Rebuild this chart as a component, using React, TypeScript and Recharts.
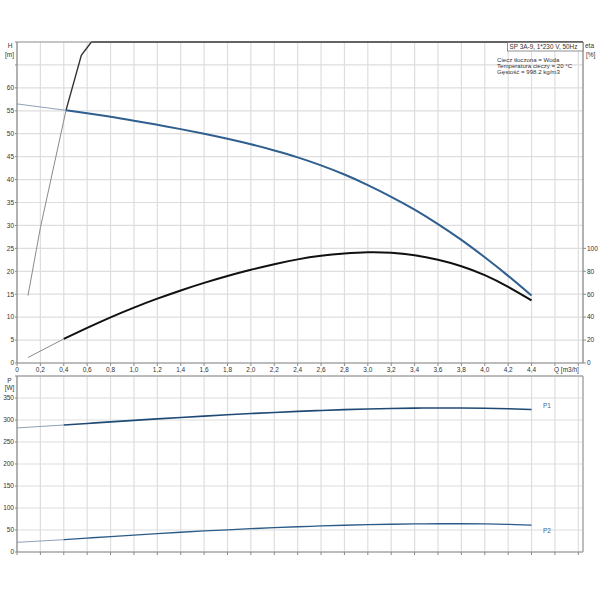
import React from 'react';
import { LineChart, Line, XAxis, YAxis, CartesianGrid, ReferenceLine } from 'recharts';

// ---- data ----
const qTicks = [0, 0.2, 0.4, 0.6, 0.8, 1.0, 1.2, 1.4, 1.6, 1.8, 2.0, 2.2, 2.4, 2.6, 2.8, 3.0, 3.2, 3.4, 3.6, 3.8, 4.0, 4.2, 4.4, 4.6, 4.8];
const hTicks = [0, 5, 10, 15, 20, 25, 30, 35, 40, 45, 50, 55, 60, 65, 70];
const etaTicks = [0, 20, 40, 60, 80, 100];
const pTicks = [0, 50, 100, 150, 200, 250, 300, 350, 400];

// H curve (m)
const qHThin = [0, 0.42];
const hThin = [56.5, 55.1];
const qH = [0.42, 0.6, 0.8, 1.0, 1.2, 1.4, 1.6, 1.8, 2.0, 2.2, 2.4, 2.6, 2.8, 3.0, 3.2, 3.4, 3.6, 3.8, 4.0, 4.2, 4.4];
const hMain = [55.1, 54.45, 53.7, 52.85, 51.95, 51.0, 50.0, 48.9, 47.7, 46.35, 44.85, 43.1, 41.1, 38.8, 36.25, 33.45, 30.3, 26.85, 23.05, 19.0, 14.7];

// steep curve (m)
const qSteepThin = [0.094, 0.2, 0.42];
const steepThin = [14.7, 29.5, 55.2];
const qSteep = [0.42, 0.55, 0.636];
const steepMain = [55.2, 67.1, 70];

// efficiency (%)
const qEtaThin = [0.094, 0.4];
const etaThin = [4.8, 21];
const qEta = [0.4, 0.6, 0.8, 1.0, 1.2, 1.4, 1.6, 1.8, 2.0, 2.2, 2.4, 2.6, 2.8, 3.0, 3.2, 3.4, 3.6, 3.8, 4.0, 4.2, 4.4];
const etaMain = [21, 30.6, 39.8, 48.3, 56.1, 63.3, 69.9, 75.9, 81.3, 86.2, 90.4, 93.5, 95.5, 96.6, 96.2, 94.0, 90.0, 84.4, 76.6, 66.4, 54.6];

// power (W)
const qPThin = [0, 0.4];
const p1Thin = [282, 288.6];
const p2Thin = [22, 28];
const qP = [0.4, 0.6, 0.8, 1.0, 1.2, 1.4, 1.6, 1.8, 2.0, 2.2, 2.4, 2.6, 2.8, 3.0, 3.2, 3.4, 3.6, 3.8, 4.0, 4.2, 4.4];
const p1Main = [288.6, 292.2, 295.8, 299.2, 302.5, 305.7, 308.8, 311.8, 314.6, 317.2, 319.6, 321.7, 323.5, 325.0, 326.2, 327.0, 327.4, 327.3, 326.8, 325.6, 323.8];
const p2Main = [28, 31.6, 35.1, 38.5, 41.8, 44.9, 47.8, 50.5, 53.0, 55.3, 57.4, 59.2, 60.8, 62.1, 63.1, 63.8, 64.2, 64.2, 63.8, 62.8, 61.2];

const zip = (qs: number[], vs: number[]) => qs.map((q, i) => ({ q, v: vs[i] }));

const FONT = '"Liberation Sans", Arial, sans-serif';
const tickStyle = { fontSize: 6.5, fill: '#333', fontFamily: FONT };
const axisCol = '#8a8a8a';
const gridCol = '#dedede';

const qFmt = (v: number) => (v > 4.45 ? '' : v === 0 ? '0' : v.toFixed(1).replace('.', ','));

export default function App() {
  return (
    <div style={{ position: 'absolute', left: 0, top: 0, width: 600, height: 600, background: '#fff' }}>
      <div style={{ position: 'absolute', left: 0, top: 0 }}>
        <LineChart width={600} height={375} margin={{ top: 42, right: 0, bottom: 0, left: 0 }}>
          <CartesianGrid stroke={gridCol} strokeWidth={1.2} />
          <XAxis
            type="number"
            dataKey="q"
            domain={[0, 4.84]}
            ticks={qTicks}
            interval={0}
            tickFormatter={qFmt}
            height={12}
            tickSize={3}
            tickMargin={1}
            axisLine={{ stroke: axisCol, strokeWidth: 1.2 }}
            tickLine={{ stroke: axisCol }}
            tick={tickStyle}
            allowDataOverflow
          />
          <YAxis
            type="number"
            domain={[0, 70]}
            ticks={hTicks}
            interval={0}
            width={17}
            tickSize={2}
            tickMargin={1}
            tickFormatter={(v: number) => (v <= 60 ? String(v) : '')}
            axisLine={{ stroke: axisCol, strokeWidth: 1.2 }}
            tickLine={{ stroke: axisCol }}
            tick={tickStyle}
            allowDataOverflow
          />
          <YAxis
            yAxisId="eta"
            orientation="right"
            type="number"
            domain={[0, 280]}
            ticks={etaTicks}
            interval={0}
            width={17}
            tickSize={3}
            tickMargin={1}
            axisLine={{ stroke: axisCol, strokeWidth: 1.2 }}
            tickLine={{ stroke: axisCol }}
            tick={tickStyle}
            allowDataOverflow
          />
          <ReferenceLine y={70} stroke="#9a9a9a" strokeWidth={1} />
          <ReferenceLine segment={[{ x: 0.636, y: 70 }, { x: 4.84, y: 70 }]} stroke="#444" strokeWidth={1.6} />
          <Line data={zip(qHThin, hThin)} dataKey="v" type="linear" dot={false} stroke="#8ea2b6" strokeWidth={1} isAnimationActive={false} />
          <Line data={zip(qSteepThin, steepThin)} dataKey="v" type="linear" dot={false} stroke="#8a8a8a" strokeWidth={1} isAnimationActive={false} />
          <Line data={zip(qSteep, steepMain)} dataKey="v" type="linear" dot={false} stroke="#333" strokeWidth={1.4} isAnimationActive={false} />
          <Line yAxisId="eta" data={zip(qEtaThin, etaThin)} dataKey="v" type="linear" dot={false} stroke="#8a8a8a" strokeWidth={1} isAnimationActive={false} />
          <Line yAxisId="eta" data={zip(qEta, etaMain)} dataKey="v" type="natural" dot={false} stroke="#111" strokeWidth={2} isAnimationActive={false} />
          <Line data={zip(qH, hMain)} dataKey="v" type="natural" dot={false} stroke="#2f5f8f" strokeWidth={2} isAnimationActive={false} />
        </LineChart>
      </div>
      <div style={{ position: 'absolute', left: 0, top: 370 }}>
        <LineChart width={600} height={190} margin={{ top: 6, right: 0, bottom: 0, left: 0 }}>
          <CartesianGrid stroke={gridCol} strokeWidth={1.2} />
          <XAxis
            type="number"
            dataKey="q"
            domain={[0, 4.84]}
            ticks={qTicks}
            interval={0}
            tickFormatter={() => ''}
            height={8}
            tickSize={3}
            axisLine={{ stroke: axisCol, strokeWidth: 1.2 }}
            tickLine={{ stroke: axisCol }}
            tick={tickStyle}
            allowDataOverflow
          />
          <YAxis
            type="number"
            domain={[0, 400]}
            ticks={pTicks}
            interval={0}
            width={17}
            tickSize={2}
            tickMargin={1}
            tickFormatter={(v: number) => (v <= 350 ? String(v) : '')}
            axisLine={{ stroke: axisCol, strokeWidth: 1.2 }}
            tickLine={{ stroke: axisCol }}
            tick={tickStyle}
            allowDataOverflow
          />
          <YAxis
            yAxisId="r"
            orientation="right"
            type="number"
            domain={[0, 400]}
            ticks={pTicks}
            width={17}
            tick={false}
            tickLine={false}
            axisLine={{ stroke: '#aaa', strokeWidth: 1.4 }}
          />
          <ReferenceLine y={400} stroke="#aaa" strokeWidth={1.4} />
          <Line data={zip(qPThin, p1Thin)} dataKey="v" type="linear" dot={false} stroke="#8ea2b6" strokeWidth={1} isAnimationActive={false} />
          <Line data={zip(qPThin, p2Thin)} dataKey="v" type="linear" dot={false} stroke="#8ea2b6" strokeWidth={1} isAnimationActive={false} />
          <Line data={zip(qP, p1Main)} dataKey="v" type="natural" dot={false} stroke="#1f4a75" strokeWidth={1.6} isAnimationActive={false} />
          <Line data={zip(qP, p2Main)} dataKey="v" type="natural" dot={false} stroke="#2a5a88" strokeWidth={1.3} isAnimationActive={false} />
        </LineChart>
      </div>
      <svg width={600} height={600} style={{ position: 'absolute', left: 0, top: 0, pointerEvents: 'none' }} fontFamily={FONT}>
        <g fontSize={6.5} fill="#333">
          <text x={10} y={48} textAnchor="middle">H</text>
          <text x={9.5} y={56.5} textAnchor="middle">[m]</text>
          <text x={585} y={48}>eta</text>
          <text x={586} y={56.5}>[%]</text>
          <text x={554} y={372}>Q [m3/h]</text>
          <text x={9.5} y={382.5} textAnchor="middle">P</text>
          <text x={9.5} y={390} textAnchor="middle">[W]</text>
        </g>
        <rect x={507.5} y={42.5} width={75.5} height={8.5} fill="#fff" stroke="#777" strokeWidth={0.8} />
        <text x={509.5} y={49.3} fontSize={6.4} fill="#333">SP 3A-9, 1*230 V, 50Hz</text>
        <g fontSize={6.1} fill="#333">
          <text x={497} y={62}>Ciecz tłoczona = Woda</text>
          <text x={497} y={68}>Temperatura cieczy = 20 °C</text>
          <text x={497} y={74}>Gęstość = 998.2 kg/m3</text>
        </g>
        <g fontSize={6.5} fill="#3a6a9a">
          <text x={543} y={408}>P1</text>
          <text x={543} y={532.5}>P2</text>
        </g>
      </svg>
    </div>
  );
}
